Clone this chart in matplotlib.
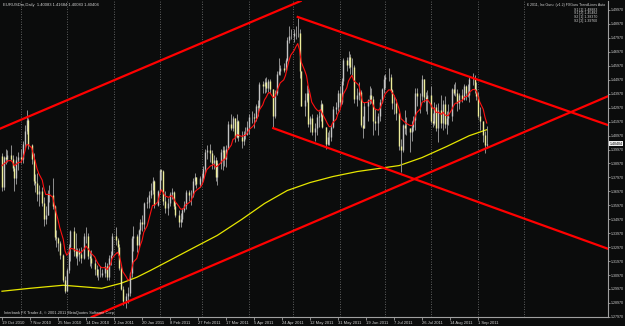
import numpy as np
import pandas as pd
import matplotlib
matplotlib.use("Agg")
import matplotlib.pyplot as plt
import matplotlib.transforms as mtransforms

plt.rcParams["font.family"] = ["Liberation Sans", "DejaVu Sans"]

# ---------------- data ----------------
start_date = "2010-10-19"
end_date = "2011-09-07"
first_open = 1.3950
ema_seed = 1.3925
ema_period = 8

close = [
    # Oct 2010
    1.3725, 1.3940, 1.3930, 1.3960, 1.3930, 1.3865, 1.3790, 1.3920, 1.3945,
    # Nov
    1.3930, 1.4040, 1.4130, 1.4210, 1.4030, 1.3930, 1.3770, 1.3760, 1.3680, 1.3700, 1.3610,
    1.3500, 1.3530, 1.3680, 1.3670, 1.3590, 1.3370, 1.3360, 1.3330, 1.3240, 1.3060, 1.2980,
    # Dec
    1.3130, 1.3300, 1.3410, 1.3270, 1.3230, 1.3270, 1.3250, 1.3220, 1.3380, 1.3380, 1.3230,
    1.3220, 1.3180, 1.3140, 1.3100, 1.3100, 1.3100, 1.3110, 1.3160, 1.3080, 1.3220, 1.3240, 1.3380,
    # Jan 2011
    1.3350, 1.3300, 1.3150, 1.3000, 1.2910, 1.2950, 1.2970, 1.3110, 1.3360, 1.3380, 1.3310,
    1.3420, 1.3480, 1.3460, 1.3610, 1.3620, 1.3670, 1.3710, 1.3770, 1.3600, 1.3700,
    # Feb
    1.3850, 1.3840, 1.3630, 1.3580, 1.3610, 1.3680, 1.3690, 1.3590, 1.3530, 1.3480, 1.3500,
    1.3560, 1.3600, 1.3690, 1.3670, 1.3670, 1.3770, 1.3800, 1.3750, 1.3790,
    # Mar
    1.3790, 1.3860, 1.3980, 1.3990, 1.3970, 1.3900, 1.3920, 1.3800, 1.3900, 1.3980, 1.3990,
    1.3930, 1.4000, 1.4180, 1.4150, 1.4220, 1.4090, 1.4200, 1.4090, 1.4060, 1.4110, 1.4110, 1.4160,
    # Apr
    1.4230, 1.4230, 1.4220, 1.4310, 1.4300, 1.4470, 1.4450, 1.4480, 1.4440, 1.4490, 1.4430,
    1.4240, 1.4400, 1.4540, 1.4560, 1.4580, 1.4570, 1.4640, 1.4780, 1.4810, 1.4810,
    # May
    1.4830, 1.4830, 1.4830, 1.4560, 1.4310, 1.4350, 1.4400, 1.4180, 1.4220, 1.4120, 1.4150,
    1.4230, 1.4240, 1.4320, 1.4160, 1.4040, 1.4090, 1.4090, 1.4160, 1.4290, 1.4300, 1.4400,
    # Jun
    1.4340, 1.4490, 1.4640, 1.4600, 1.4660, 1.4590, 1.4590, 1.4360, 1.4390, 1.4410, 1.4170,
    1.4150, 1.4310, 1.4350, 1.4390, 1.4360, 1.4200, 1.4190, 1.4240, 1.4340, 1.4430, 1.4500,
    # Jul
    1.4520, 1.4520, 1.4420, 1.4330, 1.4330, 1.4260, 1.4020, 1.3990, 1.4170, 1.4150, 1.4150,
    1.4120, 1.4160, 1.4210, 1.4400, 1.4380, 1.4380, 1.4500, 1.4370, 1.4360, 1.4390,
    # Aug
    1.4200, 1.4190, 1.4300, 1.4150, 1.4280, 1.4190, 1.4320, 1.4180, 1.4220, 1.4240, 1.4430,
    1.4400, 1.4400, 1.4330, 1.4390, 1.4360, 1.4450, 1.4400, 1.4390, 1.4500, 1.4500, 1.4430, 1.4380,
    # Sep
    1.4240, 1.4200, 1.4100, 1.4030, 1.4040,
]
high = [
    1.3975, 1.3950, 1.4000, 1.3990, 1.4030, 1.3960, 1.3880, 1.3950, 1.3980,
    1.4000, 1.4060, 1.4170, 1.4281, 1.4220, 1.4040, 1.3970, 1.3820, 1.3830, 1.3740, 1.3730,
    1.3660, 1.3590, 1.3710, 1.3740, 1.3790, 1.3600, 1.3420, 1.3370, 1.3340, 1.3250, 1.3090,
    1.3150, 1.3320, 1.3420, 1.3440, 1.3400, 1.3290, 1.3290, 1.3300, 1.3400, 1.3440, 1.3400,
    1.3270, 1.3280, 1.3210, 1.3170, 1.3140, 1.3160, 1.3140, 1.3190, 1.3180, 1.3240, 1.3270, 1.3400,
    1.3440, 1.3360, 1.3320, 1.3160, 1.3020, 1.2970, 1.3010, 1.3120, 1.3380, 1.3450, 1.3390,
    1.3430, 1.3500, 1.3530, 1.3620, 1.3660, 1.3700, 1.3760, 1.3800, 1.3780, 1.3710,
    1.3860, 1.3860, 1.3850, 1.3700, 1.3650, 1.3690, 1.3720, 1.3700, 1.3620, 1.3560, 1.3540,
    1.3580, 1.3630, 1.3710, 1.3710, 1.3710, 1.3790, 1.3830, 1.3800, 1.3810,
    1.3830, 1.3880, 1.4000, 1.4030, 1.4040, 1.3990, 1.3960, 1.3940, 1.3920, 1.4000, 1.4020,
    1.4020, 1.4030, 1.4200, 1.4250, 1.4240, 1.4220, 1.4250, 1.4210, 1.4130, 1.4130, 1.4160, 1.4200,
    1.4250, 1.4270, 1.4260, 1.4320, 1.4350, 1.4480, 1.4490, 1.4510, 1.4520, 1.4500, 1.4500,
    1.4430, 1.4420, 1.4560, 1.4650, 1.4600, 1.4620, 1.4650, 1.4800, 1.4880, 1.4860,
    1.4860, 1.4880, 1.4940, 1.4860, 1.4560, 1.4400, 1.4460, 1.4440, 1.4240, 1.4250, 1.4190,
    1.4250, 1.4270, 1.4350, 1.4330, 1.4160, 1.4120, 1.4140, 1.4170, 1.4310, 1.4340, 1.4420,
    1.4450, 1.4510, 1.4650, 1.4660, 1.4700, 1.4680, 1.4650, 1.4600, 1.4440, 1.4480, 1.4420,
    1.4240, 1.4340, 1.4360, 1.4450, 1.4440, 1.4380, 1.4290, 1.4260, 1.4360, 1.4440, 1.4530,
    1.4540, 1.4580, 1.4540, 1.4430, 1.4390, 1.4360, 1.4230, 1.4070, 1.4180, 1.4280, 1.4230,
    1.4140, 1.4200, 1.4240, 1.4440, 1.4440, 1.4400, 1.4530, 1.4500, 1.4410, 1.4420,
    1.4450, 1.4260, 1.4340, 1.4320, 1.4330, 1.4390, 1.4350, 1.4380, 1.4270, 1.4320, 1.4440,
    1.4470, 1.4480, 1.4430, 1.4400, 1.4430, 1.4470, 1.4460, 1.4470, 1.4520, 1.4548, 1.4530, 1.4480,
    1.4410, 1.4300, 1.4150, 1.4130, 1.4168,
]
low = [
    1.3700, 1.3710, 1.3890, 1.3910, 1.3920, 1.3840, 1.3700, 1.3750, 1.3850,
    1.3900, 1.3900, 1.4010, 1.4110, 1.4000, 1.3890, 1.3740, 1.3690, 1.3630, 1.3590, 1.3590,
    1.3450, 1.3460, 1.3530, 1.3620, 1.3570, 1.3350, 1.3300, 1.3270, 1.3210, 1.3050, 1.2969,
    1.2990, 1.3110, 1.3200, 1.3230, 1.3220, 1.3170, 1.3200, 1.3180, 1.3210, 1.3330, 1.3210,
    1.3160, 1.3150, 1.3100, 1.3080, 1.3060, 1.3080, 1.3080, 1.3080, 1.3060, 1.3060, 1.3170, 1.3250,
    1.3310, 1.3240, 1.3130, 1.2990, 1.2880, 1.2861, 1.2900, 1.2950, 1.3080, 1.3270, 1.3260,
    1.3300, 1.3390, 1.3410, 1.3430, 1.3580, 1.3580, 1.3650, 1.3680, 1.3580, 1.3590,
    1.3700, 1.3780, 1.3600, 1.3540, 1.3530, 1.3590, 1.3640, 1.3570, 1.3510, 1.3440, 1.3440,
    1.3480, 1.3550, 1.3570, 1.3630, 1.3600, 1.3660, 1.3740, 1.3720, 1.3730,
    1.3750, 1.3770, 1.3830, 1.3930, 1.3910, 1.3860, 1.3860, 1.3770, 1.3740, 1.3860, 1.3850,
    1.3880, 1.3870, 1.4000, 1.4140, 1.4130, 1.4050, 1.4080, 1.4060, 1.4010, 1.4030, 1.4070, 1.4100,
    1.4110, 1.4190, 1.4150, 1.4200, 1.4240, 1.4280, 1.4400, 1.4400, 1.4410, 1.4410, 1.4400,
    1.4150, 1.4220, 1.4390, 1.4530, 1.4530, 1.4550, 1.4560, 1.4630, 1.4760, 1.4790,
    1.4770, 1.4790, 1.4800, 1.4510, 1.4310, 1.4240, 1.4340, 1.4160, 1.4120, 1.4100, 1.4060,
    1.4100, 1.4160, 1.4200, 1.4150, 1.4000, 1.4030, 1.4030, 1.4060, 1.4150, 1.4250, 1.4270,
    1.4300, 1.4320, 1.4460, 1.4560, 1.4580, 1.4540, 1.4530, 1.4330, 1.4310, 1.4350, 1.4160,
    1.4080, 1.4150, 1.4200, 1.4320, 1.4330, 1.4100, 1.4140, 1.4100, 1.4200, 1.4330, 1.4400,
    1.4440, 1.4490, 1.4410, 1.4290, 1.4250, 1.4210, 1.3990, 1.3837, 1.3980, 1.4110, 1.4100,
    1.3980, 1.4060, 1.4130, 1.4140, 1.4310, 1.4260, 1.4350, 1.4340, 1.4270, 1.4250,
    1.4190, 1.4160, 1.4170, 1.4130, 1.4050, 1.4150, 1.4140, 1.4150, 1.4110, 1.4170, 1.4200,
    1.4390, 1.4380, 1.4270, 1.4290, 1.4340, 1.4350, 1.4350, 1.4370, 1.4340, 1.4460, 1.4400, 1.4350,
    1.4220, 1.4140, 1.4050, 1.3970, 1.4008,
]

# 200-day moving average (yellow), read at selected dates
ma200_dates = ["2010-10-19", "2010-11-07", "2010-11-29", "2010-12-24", "2011-01-06",
               "2011-01-17", "2011-01-26", "2011-02-09", "2011-02-24", "2011-03-11",
               "2011-03-28", "2011-04-12", "2011-04-27", "2011-05-12", "2011-05-27",
               "2011-06-13", "2011-07-11", "2011-07-26", "2011-08-11", "2011-08-26",
               "2011-09-07"]
ma200_values = [1.2981, 1.3002, 1.3024, 1.3002, 1.3038, 1.3081, 1.3131, 1.3210, 1.3296,
                1.3381, 1.3496, 1.3610, 1.3703, 1.3760, 1.3803, 1.3839, 1.3882, 1.3939,
                1.4018, 1.4096, 1.4139]

# trend lines: (date, price) anchors
line_full = [
    (("2010-11-04", 1.4227), ("2011-04-21", 1.4994)),
    (("2010-12-22", 1.2816), ("2011-08-31", 1.3975)),
]
line_rays = [
    (("2011-05-04", 1.4947), ("2011-08-29", 1.4510)),
    (("2011-04-18", 1.4150), ("2011-07-12", 1.3820)),
]

date_labels = ["19 Oct 2010", "7 Nov 2010", "25 Nov 2010", "14 Dec 2010", "2 Jan 2011",
               "20 Jan 2011", "8 Feb 2011", "27 Feb 2011", "17 Mar 2011", "5 Apr 2011",
               "24 Apr 2011", "12 May 2011", "31 May 2011", "19 Jun 2011", "7 Jul 2011",
               "26 Jul 2011", "14 Aug 2011", "1 Sep 2011"]
grid_dates = ["2010-11-01", "2010-12-01", "2011-01-02", "2011-02-01", "2011-03-01",
              "2011-04-01", "2011-05-01", "2011-06-01", "2011-07-01", "2011-08-01",
              "2011-09-01", "2011-10-02"]
price_ticks = [1.4997, 1.4897, 1.4797, 1.4697, 1.4597, 1.4497, 1.4397, 1.4297, 1.4197,
               1.4097, 1.3997, 1.3897, 1.3797, 1.3697, 1.3597, 1.3497, 1.3397, 1.3297,
               1.3197, 1.3097, 1.2997, 1.2897, 1.2797]

title_text = "EURUSDm,Daily  1.40083 1.41684 1.40083 1.40404"
corner_text = "6 2011, Inc Guru  (v1.2) FXGuru TrendLines Auto"
level_texts = ["S1 [1] 1.48883", "S1 [2] 1.45482", "S2 [1] 1.38370", "S2 [2] 1.39760"]
copyright_text = "Interbank FX Trader 4, \u00a9 2001-2011 MetaQuotes Software Corp."
last_price_text = "1.40404"

# ---------------- positions (Sunday bars occupy slots) ----------------
all_days = pd.date_range(start_date, "2011-12-31")
slot_days = all_days[all_days.dayofweek != 5]
slot_of = {d: i for i, d in enumerate(slot_days)}
def pos(d):
    return slot_of[pd.Timestamp(d)]

n = min(len(close), len(high), len(low))
bdays = pd.bdate_range(start_date, end_date)[:n]
x = np.array([pos(d) for d in bdays], dtype=float)
c = np.array(close[:n]); h = np.array(high[:n]); l = np.array(low[:n])
o = np.r_[first_open, c[:-1]]
h = np.maximum.reduce([h, o, c]); l = np.minimum.reduce([l, o, c])

# ---------------- figure ----------------
BG = "#0b0c0c"
FG = "#d2d2d2"
AX = "#a0a0a0"
W, Hh = 625, 326
fig = plt.figure(figsize=(W / 100, Hh / 100), dpi=100)
fig.patch.set_facecolor(BG)

px_per_slot = 1.75
x0_px = 2.0
ax_left_px, ax_right_px, ax_top_px, ax_bot_px = 0, 608, 1, 317
ax = fig.add_axes([ax_left_px / W, 1 - ax_bot_px / Hh,
                   (ax_right_px - ax_left_px) / W, (ax_bot_px - ax_top_px) / Hh])
ax.set_facecolor(BG)
ax.set_xlim((ax_left_px - x0_px) / px_per_slot, (ax_right_px - x0_px) / px_per_slot)
p_ref, y_ref, p_per_px = 1.4997, 10.0, 0.0100 / 13.95
ax.set_ylim(p_ref - (ax_bot_px - y_ref) * p_per_px, p_ref + (y_ref - ax_top_px) * p_per_px)

# grid (vertical dotted)
for gd in grid_dates:
    ax.axvline(pos(gd), color="#7a7a7a", lw=0.6, ls=(0, (1, 2)), zorder=0)

# yellow MA
ax.plot([pos(d) for d in ma200_dates], ma200_values, color="#e6e600", lw=0.9, zorder=3)

# candles
bull = c >= o
ax.vlines(x, l, h, color="#909090", lw=0.7, zorder=4)
body_lo = np.minimum(o, c); body_hi = np.maximum(o, c)
ax.vlines(x[bull], body_lo[bull], body_hi[bull], color="#c4c4c4", lw=1.0, zorder=5)
ax.vlines(x[~bull], body_lo[~bull], body_hi[~bull], color="#eded9a", lw=1.0, zorder=5)

# red moving average (EMA of closes)
alpha = 2.0 / (ema_period + 1)
ema = []
v = ema_seed
for val in c:
    v = v + alpha * (val - v)
    ema.append(v)
ax.plot(x, ema, color="#ff1010", lw=0.8, zorder=6)

# trend lines
xl = ax.get_xlim()
for (d1, p1), (d2, p2) in line_full:
    ax.axline((pos(d1), p1), (pos(d2), p2), color="#ff0000", lw=1.6, zorder=7)
for (d1, p1), (d2, p2) in line_rays:
    xa, xb = pos(d1), pos(d2)
    slope = (p2 - p1) / (xb - xa)
    ax.plot([xa, xl[1] + 5], [p1, p1 + slope * (xl[1] + 5 - xa)], color="#ff0000",
            lw=1.6, zorder=7)

# axes styling
for s in ["left", "top"]:
    ax.spines[s].set_visible(False)
for s in ["right", "bottom"]:
    ax.spines[s].set_color(AX)
    ax.spines[s].set_linewidth(0.8)
ax.yaxis.tick_right()
ax.set_yticks(price_ticks)
ax.set_yticklabels([f"{t:.5f}" for t in price_ticks])
ax.tick_params(axis="y", colors=AX, labelcolor=FG, labelsize=2.6, length=1.5,
               width=0.6, pad=0.6)
ax.set_xticks([pos(pd.Timestamp(dl)) for dl in date_labels])
ax.set_xticklabels(date_labels)
for lab in ax.get_xticklabels():
    lab.set_horizontalalignment("left")
ax.tick_params(axis="x", colors=AX, labelcolor=FG, labelsize=3.0, length=2,
               width=0.6, pad=1)

# last price box
trans = mtransforms.blended_transform_factory(ax.transAxes, ax.transData)
ax.text(1.003, c[-1], last_price_text, transform=trans, fontsize=2.6, color="black",
        va="center", ha="left", bbox=dict(fc="#f0f0f0", ec="none", pad=0.3), zorder=10,
        clip_on=False)

# texts
fig.text(3 / W, 1 - 5 / Hh, title_text, color=FG, fontsize=3.0, va="center", ha="left")
fig.text(605 / W, 1 - 5 / Hh, corner_text, color=FG, fontsize=2.6, va="center", ha="right")
for i, t in enumerate(level_texts):
    fig.text(597 / W, 1 - (9.5 + 3.9 * i) / Hh, t, color=FG, fontsize=2.5, va="center",
             ha="right")
fig.text(4 / W, 1 - 313 / Hh, copyright_text, color=FG, fontsize=2.8, va="center", ha="left")

fig.savefig("out.png", dpi=100, facecolor=BG)
